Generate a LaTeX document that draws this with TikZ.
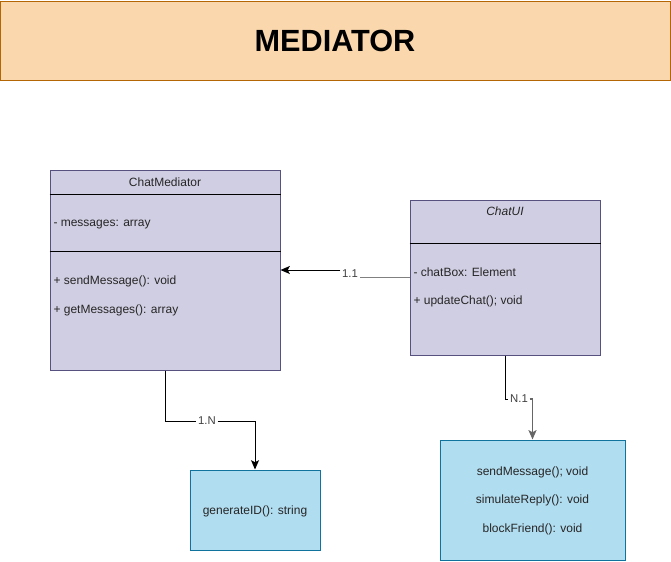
\documentclass[tikz,border=0pt]{standalone}
\usepackage{fontspec}
\setmainfont{Liberation Sans}
\usetikzlibrary{arrows.meta}
\definecolor{titlefill}{HTML}{FAD7AC}
\definecolor{titledraw}{HTML}{B46504}
\definecolor{classfill}{HTML}{D0CEE2}
\definecolor{classdraw}{HTML}{56517E}
\definecolor{funcfill}{HTML}{B1DDF0}
\definecolor{funcdraw}{HTML}{10739E}

\begin{document}
\begin{tikzpicture}
  [x=0.75pt,y=-0.75pt,line width=0.75pt,
   every node/.style={font=\fontsize{9}{11}\selectfont,text=black!85},
   classbox/.style={rectangle,draw=classdraw,fill=classfill,inner sep=0pt},
   funcbox/.style={rectangle,draw=funcdraw,fill=funcfill,inner sep=0pt,align=center},
   member/.style={anchor=west,inner sep=0pt},
   mult/.style={fill=white,inner sep=1pt,font=\fontsize{8.5}{10}\selectfont,text=black!75},
   tip/.style={-{Stealth[length=7pt,width=6pt,inset=1.5pt]}}]
  \useasboundingbox (0,0) rectangle (671,561);

  % title
  \node[rectangle,draw=titledraw,fill=titlefill,minimum width=502.5pt,minimum height=59.25pt,
        font=\bfseries\fontsize{23}{27}\selectfont,text=black] (title) at (335,41) {MEDIATOR};

  % mediator class
  \node[classbox,minimum width=172.5pt,minimum height=150pt] (med) at (165,270) {};
  \node (medname) at (165,182) {ChatMediator};
  \draw (med.west |- 0,194) -- (med.east |- 0,194);
  \draw (med.west |- 0,251) -- (med.east |- 0,251);
  \node[member] (msgs) at (53,225) {- messages: array};
  \node[member] (send) at (53,281) {+ sendMessage(): void};
  \node[member] (getm) at (53,310) {+ getMessages(): array};

  % ui class
  \node[classbox,minimum width=142.5pt,minimum height=116.25pt] (ui) at (505,277.5) {};
  \node (uiname) at (505,211) {\itshape ChatUI};
  \draw (ui.west |- 0,243) -- (ui.east |- 0,243);
  \node[member] (box) at (413,272) {- chatBox: Element};
  \node[member] (upd) at (413,301) {+ updateChat(); void};

  % helper boxes
  \node[funcbox,minimum width=97.5pt,minimum height=60pt] (gen) at (255,510) {};
  \node (gentext) at (255,511) {generateID(): string};
  \node[funcbox,minimum width=138.75pt,minimum height=90pt] (fn) at (532.5,500) {};
  \node (fsend) at (532.5,472) {sendMessage(); void};
  \node (freply) at (532.5,500) {simulateReply(): void};
  \node (fblock) at (532.5,529) {blockFriend(): void};

  % multiplicities
  \node[mult] (m11) at (350,274) {1.1};
  \node[mult] (m1n) at (207,421) {1.N};
  \node[mult] (mn1) at (519,399) {N.1};

  % connectors
  \draw[gray,line width=1.2pt] (ui.west) -- (m11.east |- ui.west);
  \draw[tip] (m11.west |- med.east) -- (med.east);
  \draw (med.south) |- (m1n.west);
  \draw[tip] (m1n.east) -| (gen.north);
  \draw (ui.south) |- (mn1.west);
  \draw[tip,gray!80!black,line width=1.2pt] (mn1.east) -| (fn.north);
\end{tikzpicture}
\end{document}
